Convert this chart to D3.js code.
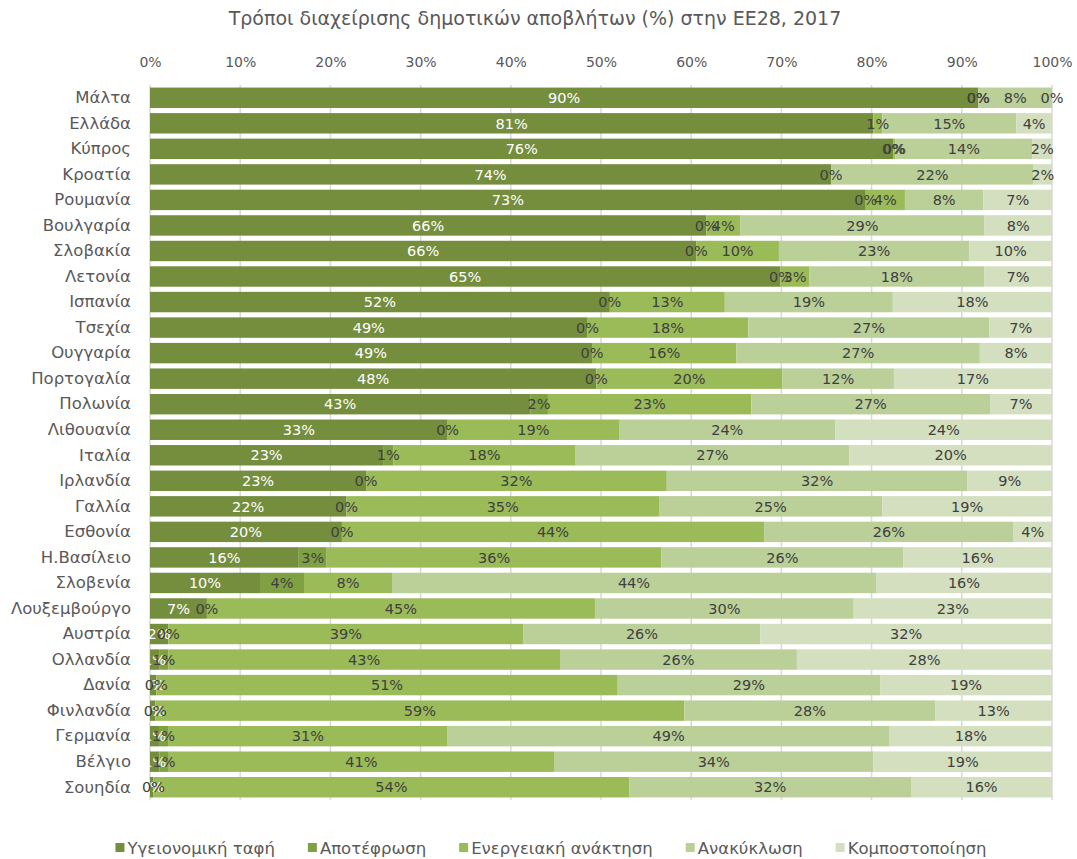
<!DOCTYPE html>
<html>
<head>
<meta charset="utf-8">
<script src="https://cdn.jsdelivr.net/npm/d3@7"></script>
<style>
  html, body { margin: 0; padding: 0; background: #ffffff; }
  svg { display: block; font-family: "DejaVu Sans", sans-serif; }
</style>
</head>
<body>
<svg id="chart" width="1077" height="859"></svg>
<script>
// ---- Data (values in %, labels are rounded values) ----
const title = "Τρόποι διαχείρισης δημοτικών αποβλήτων (%) στην ΕΕ28, 2017";
const countries = ["Μάλτα","Ελλάδα","Κύπρος","Κροατία","Ρουμανία","Βουλγαρία","Σλοβακία","Λετονία","Ισπανία","Τσεχία","Ουγγαρία","Πορτογαλία","Πολωνία","Λιθουανία","Ιταλία","Ιρλανδία","Γαλλία","Εσθονία","Η.Βασίλειο","Σλοβενία","Λουξεμβούργο","Αυστρία","Ολλανδία","Δανία","Φινλανδία","Γερμανία","Βέλγιο","Σουηδία"];
const seriesNames = ["Υγειονομική ταφή","Αποτέφρωση","Ενεργειακή ανάκτηση","Ανακύκλωση","Κομποστοποίηση"];
const landfill     = [90, 81, 76, 74, 73, 66, 66, 65, 52, 49, 49, 48, 43, 33, 23, 23, 22, 20, 16, 10, 6.6, 2, 1, 0.7, 0.6, 1, 1, 0.4];
const incineration = [0, null, 0, 0, 0, 0, 0, 0, 0, 0, 0, 0, 2, 0, 1, 0, 0, 0, 3, 4, 0, 0, 1, 0, 0, 1, 1, 0];
const energy       = [0, 1, 0.2, null, 4, 4, 10, 3, 13, 18, 16, 20, 23, 19, 18, 32, 35, 44, 36, 8, 45, 39, 43, 51, 59, 31, 41, 54];
const recycling    = [8, 15, 14, 22, 8, 29, 23, 18, 19, 27, 27, 12, 27, 24, 27, 32, 25, 26, 26, 44, 30, 26, 26, 29, 28, 49, 34, 32];
const composting   = [0, 4, 2, 2, 7, 8, 10, 7, 18, 7, 8, 17, 7, 24, 20, 9, 19, 4, 16, 16, 23, 32, 28, 19, 13, 18, 19, 16];
const xTicks = [0, 0.1, 0.2, 0.3, 0.4, 0.5, 0.6, 0.7, 0.8, 0.9, 1.0];

const seriesData = [landfill, incineration, energy, recycling, composting];
const colors = ["#758e3e", "#80a044", "#9bbb59", "#bbcf98", "#d3dfbf"];
const labelColors = ["#ffffff", "#404040", "#404040", "#404040", "#404040"];

// ---- Build table ----
const keys = ["s0","s1","s2","s3","s4"];
const rows = countries.map((c, i) => {
  const r = { country: c };
  keys.forEach((k, j) => { r[k] = seriesData[j][i] == null ? 0 : seriesData[j][i]; r["raw" + j] = seriesData[j][i]; });
  return r;
});

const svg = d3.select("#chart");

const x = d3.scaleLinear().domain([0, 1]).range([150, 1052]);
const y = d3.scaleBand().domain(countries).range([85, 800]).paddingInner(0.2).paddingOuter(0.1);

const stack = d3.stack().keys(keys).offset(d3.stackOffsetExpand);
const stacked = stack(rows);

// Title
svg.append("text")
  .attr("x", 535).attr("y", 25)
  .attr("text-anchor", "middle")
  .attr("font-size", 19)
  .attr("fill", "#595959")
  .text(title);

// Gridlines
svg.append("g").selectAll("line").data(xTicks).join("line")
  .attr("x1", d => x(d)).attr("x2", d => x(d))
  .attr("y1", 85).attr("y2", 800)
  .attr("stroke", "#d9d9d9").attr("stroke-width", 1.5);

// Top axis
const xAxis = d3.axisTop(x).tickValues(xTicks).tickFormat(d3.format(".0%")).tickSize(0).tickPadding(0);
const ax = svg.append("g").attr("transform", "translate(0,67)").call(xAxis);
ax.select(".domain").remove();
ax.selectAll("text").attr("font-size", 14).attr("fill", "#595959").attr("font-family", "DejaVu Sans, sans-serif");

// Left axis (categories)
const yAxis = d3.axisLeft(y).tickSize(0).tickPadding(0);
const ay = svg.append("g").attr("transform", "translate(131,0)").call(yAxis);
ay.select(".domain").remove();
ay.selectAll("text").attr("font-size", 16.5).attr("fill", "#595959").attr("font-family", "DejaVu Sans, sans-serif");

// Bars
const layers = svg.append("g").selectAll("g").data(stacked).join("g")
  .attr("fill", (d, i) => colors[i]);
layers.selectAll("rect").data(d => d).join("rect")
  .attr("x", d => x(d[0]))
  .attr("width", d => Math.max(0, x(d[1]) - x(d[0])))
  .attr("y", d => y(d.data.country))
  .attr("height", y.bandwidth());

// Labels
const fmt = v => d3.format(".0f")(v) + "%";
const lab = svg.append("g");
stacked.forEach((layer, i) => {
  lab.append("g").selectAll("text").data(layer.filter(d => d.data["raw" + i] != null)).join("text")
    .attr("x", d => x((d[0] + d[1]) / 2))
    .attr("y", d => y(d.data.country) + y.bandwidth() / 2)
    .attr("dy", "0.36em")
    .attr("text-anchor", "middle")
    .attr("font-size", 14.5)
    .attr("fill", labelColors[i])
    .text(d => fmt(d.data["raw" + i]));
});

// Legend
const lg = svg.append("g").attr("transform", "translate(0,848)");
const items = lg.selectAll("g").data(seriesNames).join("g");
items.append("rect").attr("width", 9).attr("height", 9).attr("y", -5).attr("fill", (d, i) => colors[i]);
items.append("text").attr("x", 12).attr("dy", "0.36em").attr("font-size", 16.5).attr("fill", "#595959").text(d => d);
let widths = [];
items.each(function() { widths.push(this.getBBox().width); });
const gap = 33;
const total = d3.sum(widths) + gap * (widths.length - 1);
let cx = 551 - total / 2;
items.attr("transform", (d, i) => { const t = `translate(${cx},0)`; cx += widths[i] + gap; return t; });
</script>
</body>
</html>
